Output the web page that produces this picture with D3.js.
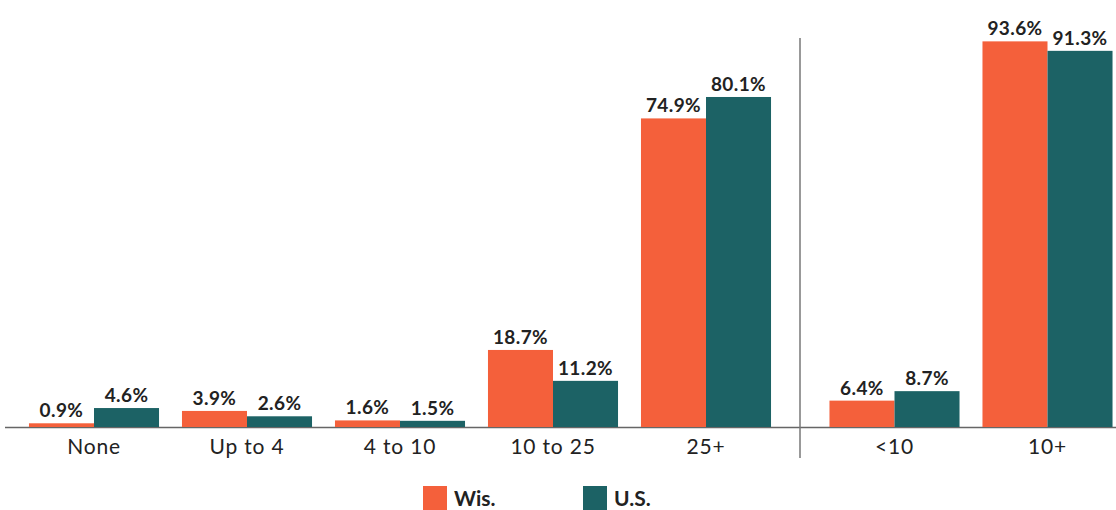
<!DOCTYPE html>
<html><head><meta charset="utf-8">
<script src="https://cdn.jsdelivr.net/npm/d3@7"></script>
<style>body{margin:0;background:#fff}svg{display:block}</style>
</head><body>
<script>
const leftCats = ["None","Up to 4","4 to 10","10 to 25","25+"];
const leftWis = [0.9,3.9,1.6,18.7,74.9];
const leftUS = [4.6,2.6,1.5,11.2,80.1];
const rightCats = ["<10","10+"];
const rightWis = [6.4,93.6];
const rightUS = [8.7,91.3];
const seriesNames = ["Wis.","U.S."];
const colors = ["#f4603b","#1c6265"];

const W=1116,H=510, base=427;
const FONT="Lato, 'Open Sans', sans-serif";
const svg=d3.select("body").append("svg").attr("width",W).attr("height",H);
const y=d3.scaleLinear().domain([0,100]).range([base, base-412]);

const xL=d3.scaleBand().domain(leftCats).range([17.5,782.5]).paddingInner(0.15).paddingOuter(0.075);
const xR=d3.scaleBand().domain(rightCats).range([818,1124]).paddingInner(0.15).paddingOuter(0.075);

function group(x,cats,wis,us){
  const sub=d3.scaleBand().domain(seriesNames).range([0,x.bandwidth()]);
  cats.forEach((c,i)=>{
    [wis[i],us[i]].forEach((v,j)=>{
      const bx=x(c)+sub(seriesNames[j]);
      svg.append("rect").attr("x",bx).attr("y",y(v)).attr("width",sub.bandwidth()).attr("height",base-y(v)).attr("fill",colors[j]);
      svg.append("text").attr("x",bx+sub.bandwidth()/2).attr("y",y(v)-6).attr("text-anchor","middle")
        .attr("font-family",FONT).attr("font-weight","bold").attr("font-size",19).attr("letter-spacing",0.4).attr("fill","#222").text(v.toFixed(1)+"%");
    });
  });
  svg.append("g").attr("transform",`translate(0,${base+1})`).call(d3.axisBottom(x).tickSize(0).tickPadding(11))
    .call(g=>g.select(".domain").remove())
    .selectAll("text").attr("font-family",FONT).attr("font-size",21).attr("letter-spacing",0.8).attr("fill","#222");
}
svg.append("line").attr("x1",5).attr("x2",W).attr("y1",base+0.5).attr("y2",base+0.5).attr("stroke","#666").attr("stroke-width",1.5);
group(xL,leftCats,leftWis,leftUS);
group(xR,rightCats,rightWis,rightUS);
svg.append("line").attr("x1",800).attr("x2",800).attr("y1",38).attr("y2",458).attr("stroke","#777").attr("stroke-width",1.5);

const lg=svg.append("g");
[[423,0],[583,1]].forEach(([lx,j])=>{
  lg.append("rect").attr("x",lx).attr("y",486).attr("width",24).attr("height",24).attr("fill",colors[j]);
  lg.append("text").attr("x",lx+31).attr("y",506).attr("font-family",FONT).attr("font-weight","bold").attr("font-size",21).attr("fill","#222").text(seriesNames[j]);
});
</script>
</body></html>
